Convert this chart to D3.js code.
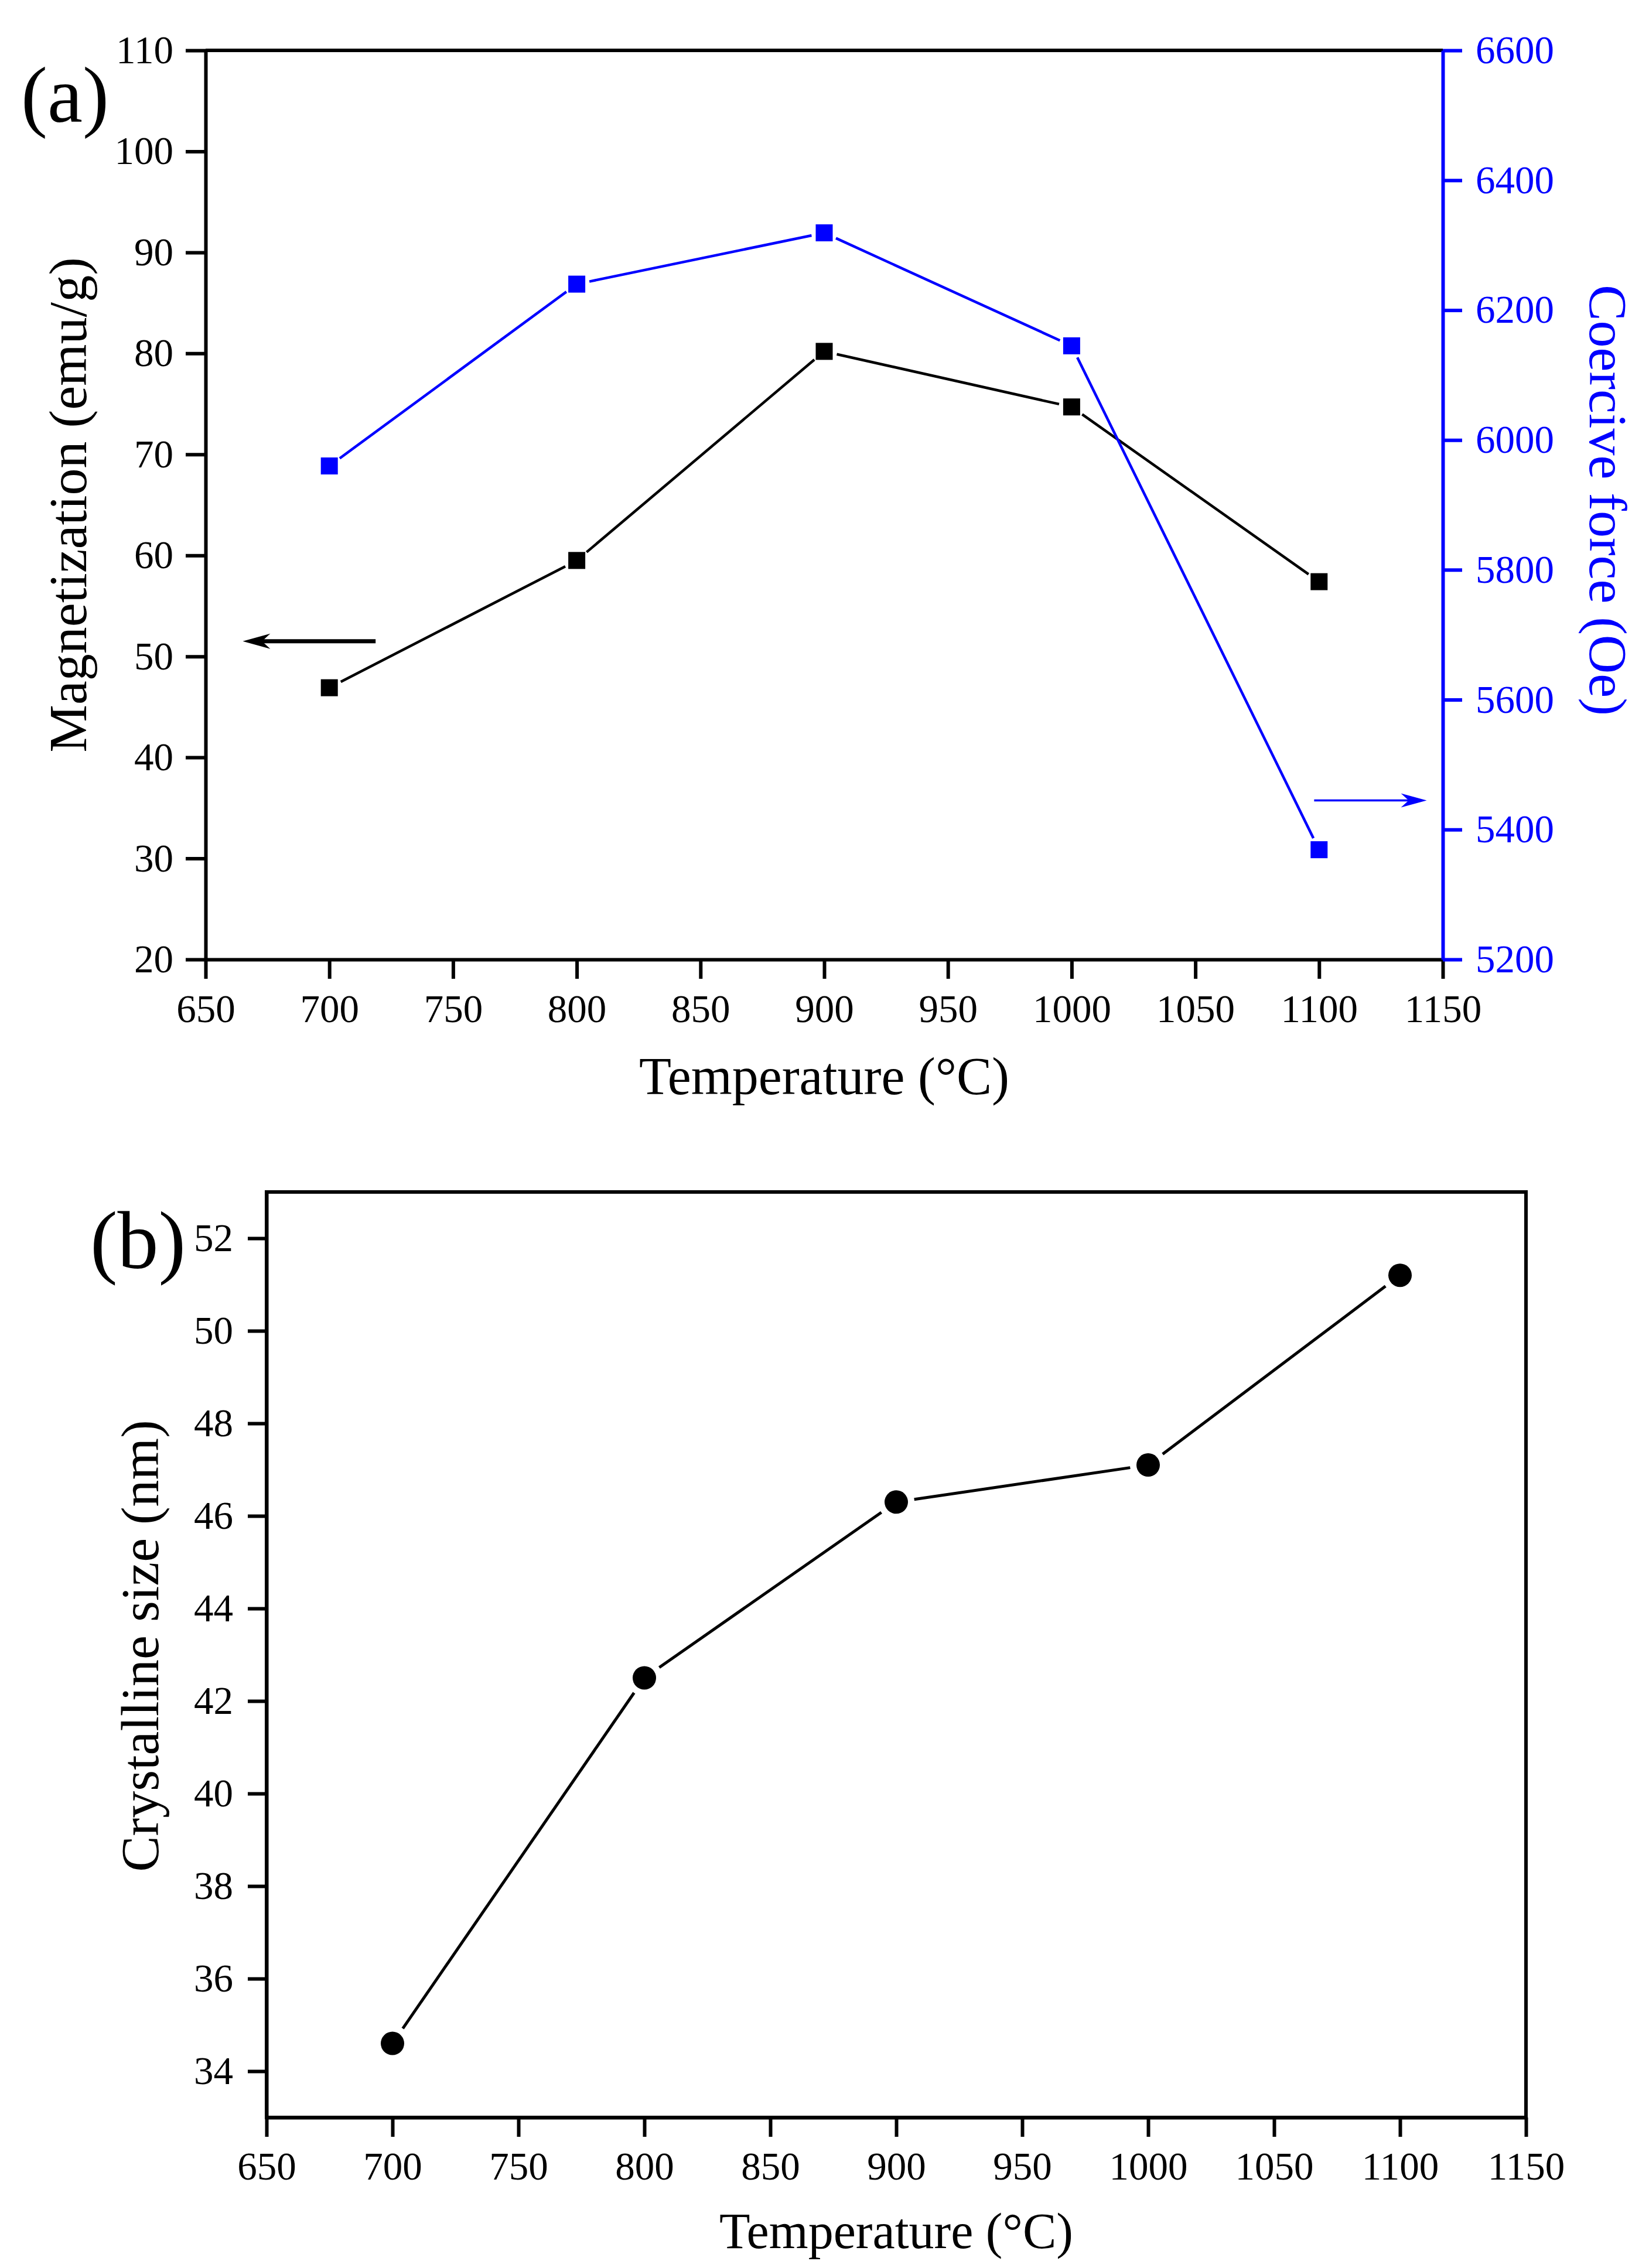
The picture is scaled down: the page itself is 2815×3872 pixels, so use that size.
<!DOCTYPE html>
<html>
<head>
<meta charset="utf-8">
<script src="https://cdn.jsdelivr.net/npm/d3@7"></script>
<style>
  body { margin: 0; background: #fff; }
  text { font-family: "Liberation Serif", "Times New Roman", serif; }
</style>
</head>
<body>
<div id="chart"></div>
<script>
// data
var temps = [700, 800, 900, 1000, 1100];
var magnetization = [46.9, 59.5, 80.2, 74.7, 57.4];   // emu/g, left axis (a)
var coercivity = [5960, 6240, 6319, 6145, 5369];       // Oe, right axis (a)
var crystalSize = [34.6, 42.5, 46.3, 47.1, 51.2];      // nm, panel (b)

var xTicks = [650, 700, 750, 800, 850, 900, 950, 1000, 1050, 1100, 1150];
var magTicks = [20, 30, 40, 50, 60, 70, 80, 90, 100, 110];
var coerTicks = [5200, 5400, 5600, 5800, 6000, 6200, 6400, 6600];
var sizeTicks = [34, 36, 38, 40, 42, 44, 46, 48, 50, 52];

// arrows pointing to the axis each series belongs to: [x from, x to, y]
var magArrow = [718.7, 665, 51.5];
var coerArrow = [1098, 1143.5, 5445];

var BLUE = "#0000ff";
var W = 2815, H = 3872;
var TICK_FS = 67;

var svg = d3.select("#chart").append("svg")
    .attr("width", W)
    .attr("height", H);

// line pieces that stop short of the markers
function gapSegments(pts, gap) {
  var segs = [];
  for (var i = 0; i < pts.length - 1; i++) {
    var a = pts[i], b = pts[i + 1];
    var dx = b[0] - a[0], dy = b[1] - a[1];
    var len = Math.sqrt(dx * dx + dy * dy);
    var ux = dx / len, uy = dy / len;
    segs.push([a[0] + ux * gap, a[1] + uy * gap, b[0] - ux * gap, b[1] - uy * gap]);
  }
  return segs;
}

function styleAxis(g, color, fs) {
  g.select(".domain").attr("stroke", color).attr("stroke-width", 6);
  g.selectAll(".tick line").attr("stroke", color).attr("stroke-width", 6);
  g.selectAll(".tick text").attr("fill", color)
    .style("font-size", fs + "px")
    .style("font-family", "'Liberation Serif', 'Times New Roman', serif");
}

function drawArrow(g, x1, x2, y, color, lw, headLen, headHalf) {
  var dir = x2 > x1 ? 1 : -1;
  g.append("line")
    .attr("x1", x1).attr("x2", x2 - dir * headLen * 0.6)
    .attr("y1", y).attr("y2", y)
    .attr("stroke", color).attr("stroke-width", lw);
  g.append("path")
    .attr("d", "M" + x2 + "," + y +
      " L" + (x2 - dir * headLen) + "," + (y - headHalf) +
      " L" + (x2 - dir * headLen * 0.7) + "," + y +
      " L" + (x2 - dir * headLen) + "," + (y + headHalf) + " Z")
    .attr("fill", color);
}

// ================= panel (a) =================
var A = { left: 351, right: 2463, top: 86, bottom: 1638 };

var xA = d3.scaleLinear().domain([650, 1150]).range([A.left, A.right]);
var yMag = d3.scaleLinear().domain([20, 110]).range([A.bottom, A.top]);
var yCoer = d3.scaleLinear().domain([5200, 6600]).range([A.bottom, A.top]);

var gA = svg.append("g");

// top frame line
gA.append("line")
  .attr("x1", A.left).attr("x2", A.right)
  .attr("y1", A.top).attr("y2", A.top)
  .attr("stroke", "#000").attr("stroke-width", 6);

var axBottomA = gA.append("g")
  .attr("transform", `translate(0,${A.bottom})`)
  .call(d3.axisBottom(xA).tickValues(xTicks).tickSize(33).tickSizeOuter(0).tickPadding(26).tickFormat(d3.format("d")));
styleAxis(axBottomA, "#000", TICK_FS);

var axLeftA = gA.append("g")
  .attr("transform", `translate(${A.left},0)`)
  .call(d3.axisLeft(yMag).tickValues(magTicks).tickSize(34).tickSizeOuter(0).tickPadding(21).tickFormat(d3.format("d")));
styleAxis(axLeftA, "#000", TICK_FS);

var axRightA = gA.append("g")
  .attr("transform", `translate(${A.right},0)`)
  .call(d3.axisRight(yCoer).tickValues(coerTicks).tickSize(33).tickSizeOuter(0).tickPadding(23).tickFormat(d3.format("d")));
styleAxis(axRightA, BLUE, TICK_FS);

// magnetization series
var magPts = temps.map((t, i) => [xA(t), yMag(magnetization[i])]);
gA.selectAll(".magSeg")
  .data(gapSegments(magPts, 22))
  .enter().append("line")
  .attr("class", "magSeg")
  .attr("x1", d => d[0]).attr("y1", d => d[1])
  .attr("x2", d => d[2]).attr("y2", d => d[3])
  .attr("stroke", "#000").attr("stroke-width", 4.5);
gA.selectAll(".magPt")
  .data(magPts)
  .enter().append("rect")
  .attr("class", "magPt")
  .attr("x", d => d[0] - 14.5).attr("y", d => d[1] - 14.5)
  .attr("width", 29).attr("height", 29)
  .attr("fill", "#000");

// coercive force series
var coerPts = temps.map((t, i) => [xA(t), yCoer(coercivity[i])]);
gA.selectAll(".coerSeg")
  .data(gapSegments(coerPts, 22))
  .enter().append("line")
  .attr("class", "coerSeg")
  .attr("x1", d => d[0]).attr("y1", d => d[1])
  .attr("x2", d => d[2]).attr("y2", d => d[3])
  .attr("stroke", BLUE).attr("stroke-width", 4.5);
gA.selectAll(".coerPt")
  .data(coerPts)
  .enter().append("rect")
  .attr("class", "coerPt")
  .attr("x", d => d[0] - 14.5).attr("y", d => d[1] - 14.5)
  .attr("width", 29).attr("height", 29)
  .attr("fill", BLUE);

// arrows
drawArrow(gA, xA(magArrow[0]), xA(magArrow[1]), yMag(magArrow[2]), "#000", 7, 47, 13);
drawArrow(gA, xA(coerArrow[0]), xA(coerArrow[1]), yCoer(coerArrow[2]), BLUE, 3.5, 44, 12);

// labels
gA.append("text")
  .attr("x", 36).attr("y", 208)
  .style("font-size", "135px")
  .text("(a)");

gA.append("text")
  .attr("transform", `translate(147,${(A.top + A.bottom) / 2}) rotate(-90)`)
  .attr("text-anchor", "middle")
  .style("font-size", "92px")
  .text("Magnetization (emu/g)");

gA.append("text")
  .attr("transform", `translate(2714,${(A.top + A.bottom) / 2 - 8}) rotate(90)`)
  .attr("text-anchor", "middle")
  .attr("fill", BLUE)
  .style("font-size", "92px")
  .text("Coercive force (Oe)");

gA.append("text")
  .attr("x", (A.left + A.right) / 2).attr("y", 1868)
  .attr("text-anchor", "middle")
  .style("font-size", "90px")
  .text("Temperature (\u00B0C)");

// ================= panel (b) =================
var B = { left: 455, right: 2605, top: 2035, bottom: 3615 };

var xB = d3.scaleLinear().domain([650, 1150]).range([B.left, B.right]);
var yB = d3.scaleLinear().domain([33, 53]).range([B.bottom, B.top]);

var gB = svg.append("g");

gB.append("rect")
  .attr("x", B.left).attr("y", B.top)
  .attr("width", B.right - B.left).attr("height", B.bottom - B.top)
  .attr("fill", "none").attr("stroke", "#000").attr("stroke-width", 6);

var axBottomB = gB.append("g")
  .attr("transform", `translate(0,${B.bottom})`)
  .call(d3.axisBottom(xB).tickValues(xTicks).tickSize(33).tickSizeOuter(0).tickPadding(25).tickFormat(d3.format("d")));
styleAxis(axBottomB, "#000", TICK_FS);

var axLeftB = gB.append("g")
  .attr("transform", `translate(${B.left},0)`)
  .call(d3.axisLeft(yB).tickValues(sizeTicks).tickSize(32).tickSizeOuter(0).tickPadding(25).tickFormat(d3.format("d")));
styleAxis(axLeftB, "#000", TICK_FS);

var sizePts = temps.map((t, i) => [xB(t), yB(crystalSize[i])]);
gB.selectAll(".sizeSeg")
  .data(gapSegments(sizePts, 31))
  .enter().append("line")
  .attr("class", "sizeSeg")
  .attr("x1", d => d[0]).attr("y1", d => d[1])
  .attr("x2", d => d[2]).attr("y2", d => d[3])
  .attr("stroke", "#000").attr("stroke-width", 5);
gB.selectAll(".sizePt")
  .data(sizePts)
  .enter().append("circle")
  .attr("class", "sizePt")
  .attr("cx", d => d[0]).attr("cy", d => d[1])
  .attr("r", 20)
  .attr("fill", "#000");

gB.append("text")
  .attr("x", 154).attr("y", 2165)
  .style("font-size", "140px")
  .text("(b)");

gB.append("text")
  .attr("transform", `translate(270,${(B.top + B.bottom) / 2 - 15}) rotate(-90)`)
  .attr("text-anchor", "middle")
  .style("font-size", "92px")
  .text("Crystalline size (nm)");

gB.append("text")
  .attr("x", (B.left + B.right) / 2).attr("y", 3838)
  .attr("text-anchor", "middle")
  .style("font-size", "86px")
  .text("Temperature (\u00B0C)");
</script>
</body>
</html>
